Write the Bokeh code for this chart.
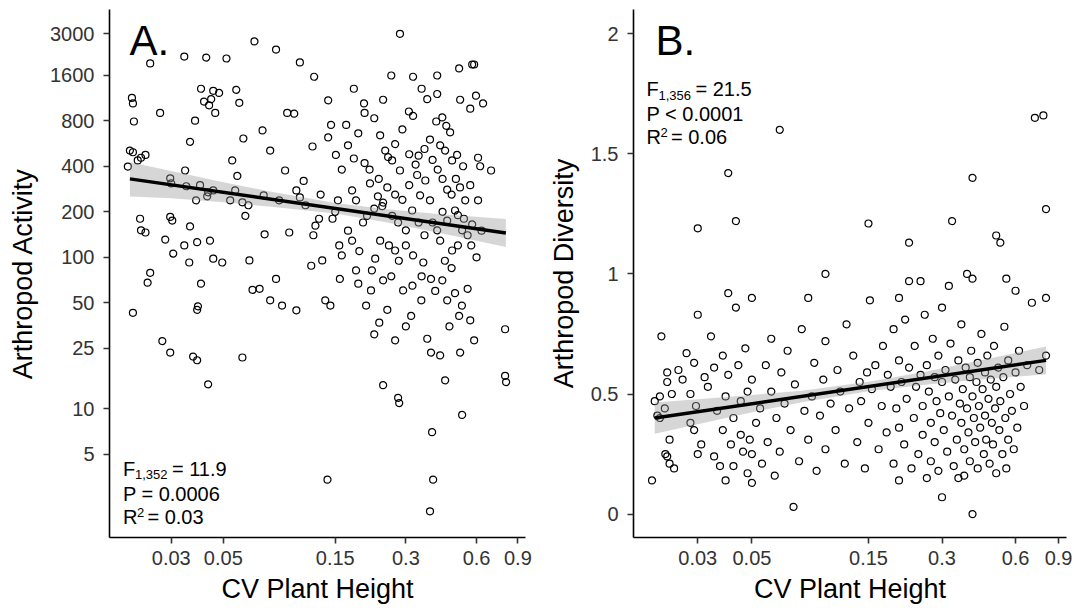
from math import log10
from bokeh.plotting import figure
from bokeh.layouts import row
from bokeh.models import FixedTicker, CustomJSTickFormatter, Label, Range1d
from bokeh.embed import file_html
from bokeh.resources import INLINE

FONT = "Liberation Sans"

# ---------------- data ----------------
# Panel A: CV plant height vs arthropod activity
cv_a = [0.0204, 0.0206, 0.0208, 0.020, 0.0206, 0.0216, 0.0223, 0.0233, 0.0196, 0.0244,
        0.0269, 0.0221, 0.0233, 0.0223, 0.0238, 0.0206, 0.0275, 0.0297, 0.0297, 0.030,
        0.0297, 0.0303, 0.0283, 0.0306, 0.0244,
        0.0341, 0.0423, 0.0402, 0.0453, 0.048, 0.0444, 0.0414, 0.0435, 0.0462, 0.0379,
        0.0361, 0.0344, 0.0348, 0.0398, 0.0383, 0.0431, 0.0453, 0.0427, 0.0361, 0.0387,
        0.0439, 0.0453, 0.0402, 0.0495, 0.039, 0.0387, 0.0372, 0.0387, 0.0431, 0.0341, 0.0358,
        0.0516, 0.0679, 0.0839, 0.0568, 0.0585, 0.0609, 0.0546, 0.0574, 0.0562, 0.0535,
        0.0603, 0.064, 0.0621, 0.0743, 0.0865, 0.0917, 0.1024, 0.0955, 0.075, 0.0646,
        0.0714, 0.0792, 0.089, 0.1024, 0.0603, 0.0666, 0.0839, 0.0936, 0.1003, 0.106,
        0.0735, 0.0792, 0.106,
        0.122, 0.14, 0.144, 0.151, 0.167, 0.17, 0.188, 0.184, 0.177, 0.128,
        0.1235, 0.146, 0.154, 0.156, 0.16, 0.132, 0.1185, 0.177, 0.197, 0.205,
        0.136, 0.143, 0.157, 0.184, 0.188, 0.213, 0.203, 0.139, 0.121, 0.112,
        0.283, 0.26, 0.322, 0.309, 0.322, 0.22, 0.199, 0.233, 0.245, 0.252,
        0.262, 0.283, 0.211, 0.228, 0.238, 0.262, 0.278, 0.30, 0.319, 0.345,
        0.363, 0.335, 0.233, 0.254, 0.27, 0.222, 0.215, 0.24, 0.231, 0.22,
        0.27, 0.278, 0.281, 0.24, 0.322, 0.356, 0.349, 0.292, 0.316, 0.37,
        0.408, 0.506, 0.575, 0.586, 0.37, 0.408, 0.404, 0.429, 0.446, 0.463,
        0.511, 0.564, 0.597, 0.64, 0.42, 0.441, 0.472, 0.496, 0.526, 0.564,
        0.537, 0.486, 0.45, 0.408, 0.42, 0.472, 0.521, 0.575, 0.609, 0.622,
        0.38, 0.384, 0.429, 0.45, 0.486, 0.506, 0.564, 0.586, 0.384, 0.441,
        0.388, 0.521, 0.392, 0.38, 0.511, 0.42,
        0.609, 0.692, 0.794, 0.794, 0.802,
        0.18, 0.2, 0.21, 0.23, 0.25, 0.27, 0.29, 0.31, 0.33, 0.34,
        0.36, 0.38, 0.39, 0.41, 0.43, 0.45, 0.47, 0.49, 0.51, 0.53,
        0.55, 0.57, 0.6, 0.63, 0.44, 0.47, 0.5, 0.36, 0.34, 0.3,
        0.28, 0.26, 0.32, 0.35, 0.4, 0.46, 0.52, 0.55, 0.3, 0.25,
        0.19, 0.17, 0.15, 0.13, 0.11, 0.16, 0.12, 0.14, 0.2, 0.24,
        0.18, 0.35, 0.29, 0.27, 0.31, 0.24, 0.22, 0.43, 0.5, 0.39]
activity_a = [1130, 1040, 790, 508, 495, 437, 455, 475, 398, 1910,
              900, 180, 146, 151, 68, 43, 28, 23.5, 333, 308,
              185, 175, 131, 106, 79,
              2120, 2090, 1300, 1260, 1220, 1110, 1070, 1010, 900, 800,
              580, 375, 295, 300, 238, 269, 277, 253, 160, 126,
              129, 98, 67, 92.5, 47.5, 45, 22.1, 20.9, 14.5, 120, 92.5,
              2060, 2670, 2360, 1280, 1050, 610, 437, 345, 277, 238,
              231, 221, 188, 257, 238, 375, 277, 146, 142, 95.5,
              62, 52, 48, 44.7, 21.8, 61, 72, 900, 890, 1940,
              690, 508, 249,
              1560, 1090, 750, 475, 750, 550, 660, 238, 277, 180,
              162, 180, 238, 120, 103, 95.5, 88, 129, 170, 188,
              52, 48, 72, 82, 67, 60.5, 48, 3.4, 140, 221,
              3000, 1590, 1560, 920, 860, 830, 1040, 640, 508, 460,
              437, 375, 308, 253, 218, 188, 170, 151, 204, 257,
              322, 350, 129, 120, 111, 98, 82, 70.5, 37, 31,
              28.3, 11.8, 10.9, 14.3, 103, 92.5, 52, 60.5, 41, 29,
              1590, 1770, 1880, 1880, 1110, 1200, 790, 840, 740, 670,
              1100, 960, 1170, 1040, 550, 508, 437, 475, 400, 300,
              238, 204, 175, 151, 129, 111, 151, 165, 238, 400,
              238, 72, 70.5, 52, 58, 41, 38.4, 28.3, 23.5, 15.4,
              7.0, 9.1, 3.4, 2.1, 23.5, 22.5,
              455, 375, 33.5, 16.5, 15,
              450, 420, 380, 330, 290, 260, 240, 300, 410, 470,
              520, 600, 440, 380, 330, 280, 260, 330, 290, 180,
              140, 120, 100, 150, 95, 85, 120, 140, 170, 120,
              95, 75, 65, 75, 60, 35, 48, 62, 35, 45,
              110, 150, 200, 260, 320, 380, 540, 620, 900, 1100,
              1300, 1300, 700, 560, 480, 230, 210, 200, 190, 170]

# Panel B: CV plant height vs arthropod diversity
cv_b = [0.0195, 0.020, 0.0205, 0.021, 0.021, 0.022, 0.0213, 0.0225, 0.0225, 0.023,
        0.0221, 0.0225, 0.023, 0.024, 0.0235, 0.025, 0.026, 0.027, 0.028, 0.028,
        0.029, 0.03, 0.029, 0.03, 0.03, 0.0295,
        0.031, 0.032, 0.033, 0.034, 0.035, 0.035, 0.036, 0.037, 0.038, 0.038,
        0.039, 0.039, 0.04, 0.04, 0.04, 0.041, 0.042, 0.042, 0.043, 0.043,
        0.044, 0.045, 0.045, 0.046, 0.047, 0.048, 0.048, 0.049, 0.05, 0.05, 0.05, 0.05,
        0.052, 0.054, 0.055, 0.057, 0.058, 0.06, 0.06, 0.062, 0.063, 0.065,
        0.065, 0.066, 0.068, 0.07, 0.072, 0.074, 0.075, 0.078, 0.08, 0.082,
        0.085, 0.085, 0.088, 0.09, 0.092, 0.095, 0.098, 0.1, 0.1, 0.1,
        0.105, 0.11, 0.112, 0.115, 0.12, 0.122, 0.125, 0.13, 0.135, 0.138,
        0.14, 0.145, 0.148, 0.15, 0.15, 0.152, 0.155, 0.16, 0.165, 0.17,
        0.172, 0.178, 0.18, 0.185, 0.19, 0.19, 0.195, 0.2, 0.2, 0.2, 0.2,
        0.205, 0.21, 0.212, 0.215, 0.22, 0.22, 0.22, 0.225, 0.23, 0.232,
        0.235, 0.24, 0.245, 0.245, 0.25, 0.25, 0.255, 0.26, 0.26, 0.265,
        0.27, 0.27, 0.275, 0.28, 0.28, 0.285, 0.29, 0.29, 0.295, 0.3,
        0.3, 0.3, 0.305, 0.31, 0.315, 0.32, 0.32, 0.325, 0.33, 0.33,
        0.335, 0.34, 0.345, 0.35, 0.35,
        0.355, 0.36, 0.36, 0.365, 0.37, 0.37, 0.375, 0.38, 0.38, 0.385,
        0.39, 0.39, 0.395, 0.4, 0.4, 0.4, 0.4, 0.405, 0.41, 0.415,
        0.42, 0.42, 0.425, 0.43, 0.435, 0.44, 0.445, 0.45, 0.45, 0.455,
        0.46, 0.465, 0.47, 0.475, 0.48, 0.485, 0.49, 0.495, 0.5, 0.5, 0.5,
        0.51, 0.515, 0.52, 0.52, 0.53, 0.535, 0.54, 0.545, 0.55, 0.55,
        0.56, 0.56, 0.57, 0.58, 0.59, 0.6, 0.6, 0.61, 0.62, 0.63,
        0.65, 0.67, 0.7, 0.72, 0.75, 0.78, 0.8, 0.8, 0.8]
diversity_b = [0.14, 0.47, 0.41, 0.40, 0.49, 0.44, 0.74, 0.55, 0.59, 0.31,
               0.25, 0.24, 0.21, 0.19, 0.50, 0.60, 0.56, 0.67, 0.38, 0.50,
               0.35, 0.25, 0.63, 0.83, 1.19, 0.45,
               0.29, 0.57, 0.53, 0.74, 0.61, 0.24, 0.43, 0.20, 0.35, 0.66,
               0.14, 0.49, 0.92, 1.42, 0.58, 0.29, 0.40, 0.20, 1.22, 0.86,
               0.62, 0.33, 0.47, 0.26, 0.69, 0.17, 0.51, 0.31, 0.13, 0.90, 0.25, 0.56,
               0.38, 0.44, 0.21, 0.62, 0.30, 0.73, 0.51, 0.16, 0.40, 1.60,
               0.26, 0.59, 0.46, 0.68, 0.35, 0.03, 0.54, 0.22, 0.77, 0.43,
               0.90, 0.31, 0.49, 0.63, 0.18, 0.41, 0.56, 1.00, 0.27, 0.72,
               0.46, 0.35, 0.60, 0.51, 0.21, 0.79, 0.44, 0.66, 0.30, 0.55,
               0.47, 0.19, 0.59, 1.21, 0.38, 0.89, 0.52, 0.62, 0.27, 0.45,
               0.70, 0.34, 0.58, 0.53, 0.21, 0.77, 0.44, 0.90, 0.14, 0.64, 0.36,
               0.55, 0.29, 0.81, 0.48, 1.13, 0.97, 0.61, 0.19, 0.40, 0.70,
               0.53, 0.25, 0.97, 0.58, 0.33, 0.45, 0.83, 0.15, 0.62, 0.51,
               0.38, 0.22, 0.73, 0.57, 0.30, 0.47, 0.66, 0.18, 0.42, 0.07,
               0.55, 0.86, 0.35, 0.60, 0.26, 0.95, 0.49, 0.71, 1.22, 0.41,
               0.20, 0.56, 0.31, 0.64, 0.15,
               0.46, 0.38, 0.79, 0.52, 0.16, 0.27, 0.61, 1.00, 0.44, 0.34,
               0.57, 0.22, 0.68, 1.40, 0.00, 0.98, 0.49, 0.40, 0.30, 0.55,
               0.63, 0.19, 0.45, 0.36, 0.75, 0.52, 0.25, 0.59, 0.41, 0.31,
               0.66, 0.48, 0.21, 0.56, 0.38, 0.29, 0.70, 0.44, 1.16, 0.53, 0.17,
               0.61, 0.35, 1.13, 0.47, 0.25, 0.57, 0.78, 0.40, 0.98, 0.19,
               0.64, 0.31, 0.50, 0.43, 0.27, 0.93, 0.59, 0.36, 0.68, 0.53,
               0.45, 0.62, 0.88, 1.65, 0.60, 1.66, 1.27, 0.90, 0.66]

# fitted regression lines and confidence bands
fit_x = [0.02, 0.8]
fit_a = [330, 145]
fit_b = [0.40, 0.64]
band_x = [0.02, 0.03, 0.05, 0.08, 0.15, 0.25, 0.4, 0.8]
band_lo_a = [252, 246, 231, 216, 195, 170, 147, 117]
band_hi_a = [425, 372, 314, 271, 229, 208, 194, 179]
band_lo_b = [0.335, 0.374, 0.424, 0.466, 0.511, 0.537, 0.557, 0.582]
band_hi_b = [0.465, 0.478, 0.496, 0.514, 0.551, 0.591, 0.633, 0.698]

x_ticks = [0.03, 0.05, 0.15, 0.3, 0.6, 0.9]
y_ticks_a = [5, 10, 25, 50, 100, 200, 400, 800, 1600, 3000]
y_ticks_b = [0, 0.5, 1, 1.5, 2]

# ---------------- layout helpers ----------------
FRAME_H = 528
X_RANGE = (0.01637, 0.97)


def make_fig(frame_w, left_b, right_b, y_type, yr, x_label, y_label, y_ticks):
    p = figure(x_axis_type="log", y_axis_type=y_type,
               x_range=Range1d(*X_RANGE), y_range=Range1d(*yr),
               output_backend="svg", toolbar_location=None,
               min_border_left=left_b, min_border_right=right_b,
               min_border_top=9, min_border_bottom=75)
    p.frame_width = frame_w
    p.frame_height = FRAME_H
    p.outline_line_color = None
    p.grid.visible = False
    p.xaxis.axis_label = x_label
    p.yaxis.axis_label = y_label
    p.xaxis.ticker = FixedTicker(ticks=x_ticks)
    p.yaxis.ticker = FixedTicker(ticks=y_ticks)
    for ax in (p.xaxis[0], p.yaxis[0]):
        ax.axis_line_width = 1.6
        ax.axis_line_color = "black"
        ax.major_tick_line_width = 1.6
        ax.major_tick_line_color = "#333333"
        ax.major_tick_out = 6
        ax.major_tick_in = 0
        ax.minor_tick_line_color = None
        ax.major_label_text_font = FONT
        ax.major_label_text_font_size = "20px"
        ax.major_label_text_color = "#333333"
        ax.axis_label_text_font = FONT
        ax.axis_label_text_font_size = "27px"
        ax.axis_label_text_font_style = "normal"
        ax.axis_label_text_color = "black"
        ax.formatter = CustomJSTickFormatter(code="return tick.toString();")
    p.yaxis.major_label_standoff = 9
    p.xaxis.major_label_standoff = 7
    p.xaxis.axis_label_standoff = 6
    p.yaxis.axis_label_standoff = 9
    return p


def px_to_x(frame_w, dx):
    a, b = log10(X_RANGE[0]), log10(X_RANGE[1])
    return 10 ** (a + dx / frame_w * (b - a))


def add_text(p, x, y, txt, size, dx=0):
    p.add_layout(Label(x=x, y=y, text=txt, x_offset=dx,
                       text_font=FONT, text_font_size=size, text_color="black",
                       text_baseline="alphabetic", text_align="left"))


def draw_panel(p, xs, ys, fy, blo, bhi):
    p.scatter(xs, ys, marker="circle", size=7, fill_color=None,
              line_color="black", line_width=1.2)
    p.varea(x=band_x, y1=blo, y2=bhi, fill_color="#999999", fill_alpha=0.4)
    p.line(fit_x, fy, line_color="black", line_width=3.5)


# ---------------- panel A ----------------
YA = (1.41, 4341)
wA = 416
pA = make_fig(wA, 109, 20, "log", YA, "CV Plant Height", "Arthropod Activity", y_ticks_a)
draw_panel(pA, cv_a, activity_a, fit_a, band_lo_a, band_hi_a)


def ya(py_from_top):
    a, b = log10(YA[0]), log10(YA[1])
    return 10 ** (b - py_from_top / FRAME_H * (b - a))


x0 = px_to_x(wA, 13.4)
add_text(pA, px_to_x(wA, 20), ya(31), "A.", "42px")
add_text(pA, x0, ya(459), "F", "20px")
add_text(pA, x0, ya(465), "1,352", "13px", dx=12)
add_text(pA, x0, ya(459), "= 11.9", "20px", dx=49)
add_text(pA, x0, ya(484.5), "P = 0.0006", "20px")
add_text(pA, x0, ya(507.5), "R", "20px")
add_text(pA, x0, ya(503), "2", "13px", dx=14)
add_text(pA, x0, ya(507.5), "= 0.03", "20px", dx=24.5)

# ---------------- panel B ----------------
YB = (-0.0975, 2.101)
wB = 433
pB = make_fig(wB, 84, 12, "linear", YB, "CV Plant Height", "Arthropod Diversity", y_ticks_b)
draw_panel(pB, cv_b, diversity_b, fit_b, band_lo_b, band_hi_b)


def yb(py_from_top):
    return YB[1] - py_from_top / FRAME_H * (YB[1] - YB[0])


x0b = px_to_x(wB, 13)
add_text(pB, px_to_x(wB, 22), yb(31), "B.", "42px")
add_text(pB, x0b, yb(79.5), "F", "20px")
add_text(pB, x0b, yb(85.5), "1,356", "13px", dx=12)
add_text(pB, x0b, yb(79.5), "= 21.5", "20px", dx=49)
add_text(pB, x0b, yb(104.5), "P < 0.0001", "20px")
add_text(pB, x0b, yb(127.5), "R", "20px")
add_text(pB, x0b, yb(123), "2", "13px", dx=14)
add_text(pB, x0b, yb(127.5), "= 0.06", "20px", dx=24.5)

layout = row(pA, pB)
open("out.html", "w").write(file_html(layout, INLINE))
